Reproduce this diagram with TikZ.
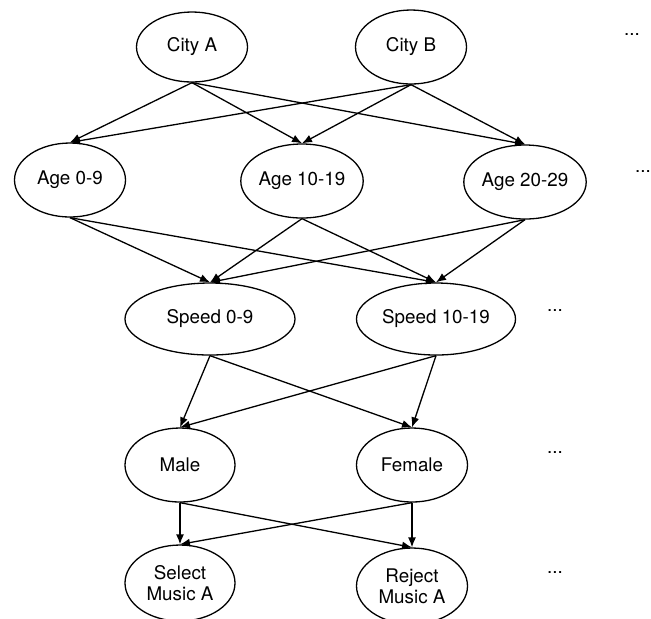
\documentclass[tikz,border=0pt]{standalone}
\usepackage{fontspec}
\setmainfont{TeX Gyre Heros}
\usetikzlibrary{shapes.geometric}
\usetikzlibrary{arrows.meta}

\begin{document}
\begin{tikzpicture}[x=.5pt, y=-.5pt, >={Latex[length=5pt,width=4pt]}, line width=.65pt,
  state/.style={draw, ellipse, inner sep=0, align=center, font=\fontsize{9.4}{10.5}\selectfont},
  more/.style={font=\fontsize{9.4}{10.5}\selectfont}]
\useasboundingbox (0,0) rectangle (651,618);
\clip (0,0) rectangle (651,618);
% layer 1
\node[state, minimum width=55.5pt, minimum height=35pt] (cityA) at (192,47) {City A};
\node[state, minimum width=55.5pt, minimum height=37pt] (cityB) at (411,47) {City B};
\node[more] (dotsA) at (632,35) {...};
% layer 2
\node[state, minimum width=55.5pt, minimum height=37pt] (age0) at (70,180) {Age 0-9};
\node[state, minimum width=55pt, minimum height=37pt] (age10) at (302,181) {Age 10-19};
\node[state, minimum width=55pt, minimum height=37pt] (age20) at (525,182) {Age 20-29};
\node[more] (dotsB) at (643,172) {...};
% layer 3
\node[state, minimum width=85pt, minimum height=36pt] (speed0) at (210,319) {Speed 0-9};
\node[state, minimum width=79.5pt, minimum height=36pt] (speed10) at (436,319) {Speed 10-19};
\node[more] (dotsC) at (555,311) {...};
% layer 4
\node[state, minimum width=55pt, minimum height=37pt] (male) at (180,465) {Male};
\node[state, minimum width=55.5pt, minimum height=37pt] (female) at (412,465) {Female};
\node[more] (dotsD) at (555,453) {...};
% layer 5
\node[state, minimum width=55pt, minimum height=38pt] (select) at (180,583) {Select\\Music A};
\node[state, minimum width=55.5pt, minimum height=38pt] (reject) at (412,586) {Reject\\Music A};
\node[more] (dotsE) at (555,573) {...};
% edges
\foreach \s in {cityA,cityB} {
 \foreach \t in {age0,age10,age20}
  \draw[->] (\s.south) -- (\t.north);
}
\foreach \s in {age0,age10,age20} {
 \foreach \t in {speed0,speed10}
  \draw[->] (\s.south) -- (\t.north);
}
\foreach \s in {speed0,speed10} {
 \foreach \t in {male,female}
  \draw[->] (\s.south) -- (\t.north);
}
\foreach \s in {male,female} {
 \foreach \t in {select,reject}
  \draw[->] (\s.south) -- (\t.north);
}
\end{tikzpicture}
\end{document}
